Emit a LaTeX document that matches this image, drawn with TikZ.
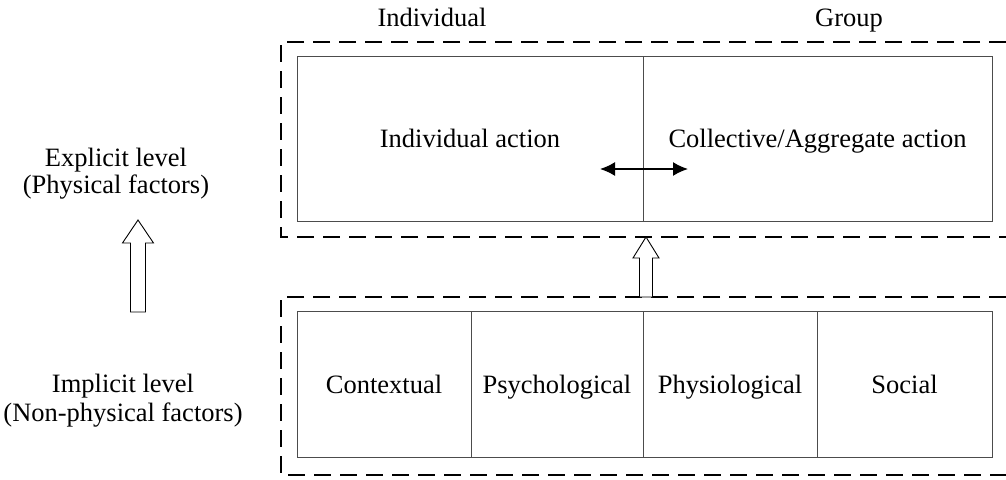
\documentclass[tikz,border=0pt]{standalone}
\usepackage{fontspec}
\setmainfont{Liberation Serif}
\usetikzlibrary{arrows.meta,positioning}

\begin{document}
\begin{tikzpicture}[x=1pt, y=-1pt,
  lvl/.style={font=\fontsize{26.5}{30}\selectfont, anchor=base, inner sep=0pt},
  cell/.style={draw=black!70, line width=0.9pt, anchor=north west, inner sep=0pt, outer sep=0pt,
    text height=18pt, text depth=0pt, font=\fontsize{26.5}{30}\selectfont},
  frame/.style={draw=black, line width=2pt, dash pattern=on 17pt off 9pt},
  hollow/.style={draw=black, line width=0.9pt, fill=white, line join=miter},
  twoway/.style={line width=1.6pt, {Latex[length=15pt,width=14pt]}-{Latex[length=15pt,width=14pt]}}]
  \useasboundingbox (0,0) rectangle (1006,479);
  % top level: actions
  \draw[frame] (1006,42) -| (281,237) -- (1006,237);
  \node[cell, minimum width=346pt, minimum height=165pt] (ind) at (297,56) {Individual action};
  \node[cell, minimum width=349pt, minimum height=165pt] (col) at (643,56) {Collective/Aggregate action};
  \node[lvl] (indhead) at (432,26) {Individual};
  \node[lvl] (grphead) at (849,26) {Group};
  % bottom level: factors
  \draw[frame] (1006,297) -| (281,475) -- (1006,475);
  \node[cell, minimum width=174pt, minimum height=146pt] (ctx) at (297,311) {Contextual};
  \node[cell, minimum width=172pt, minimum height=146pt] (psy) at (471,311) {Psychological};
  \node[cell, minimum width=174pt, minimum height=146pt] (phy) at (643,311) {Physiological};
  \node[cell, minimum width=175pt, minimum height=146pt] (soc) at (817,311) {Social};
  % level names
  \node[lvl] (expl) at (116,166) {Explicit level};
  \node[lvl] (phys) at (116,193) {(Physical factors)};
  \node[lvl] (impl) at (123,392) {Implicit level};
  \node[lvl] (nonphys) at (123,421) {(Non-physical factors)};
  % arrows
  \draw[hollow] (130.5,312) -- (130.5,243) -- (122.5,243) -- (138,220) -- (153.5,243)
    -- (145.5,243) -- (145.5,312) -- cycle;
  \draw[hollow] (639.5,297) -- (639.5,258) -- (633,258) -- (646,237) -- (659,258)
    -- (652.5,258) -- (652.5,297) -- cycle;
  \coordinate (left) at (600,169);
  \coordinate (right) at (688,169);
  \draw[twoway] (left) -- (right);
\end{tikzpicture}
\end{document}
